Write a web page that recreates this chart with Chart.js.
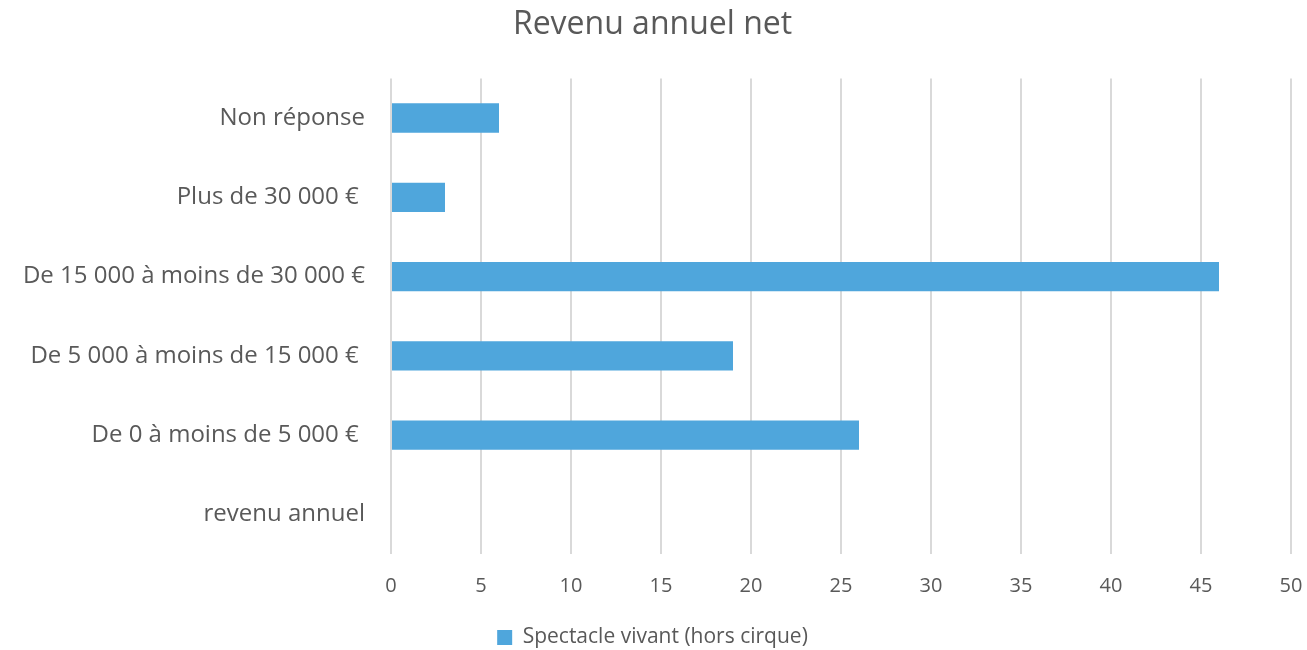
<!DOCTYPE html>
<html>
<head>
<meta charset="utf-8">
<script src="https://cdn.jsdelivr.net/npm/chart.js@4/dist/chart.umd.min.js"></script>
<style>
  html, body { margin: 0; padding: 0; background: #fff; }
  #wrap { width: 1307px; height: 650px; }
</style>
</head>
<body>
<div id="wrap"><canvas id="chart"></canvas></div>
<script>
// Data
const categories = [
  "Non réponse",
  "Plus de 30 000 € ",
  "De 15 000 à moins de 30 000 €",
  "De 5 000 à moins de 15 000 € ",
  "De 0 à moins de 5 000 € ",
  "revenu annuel"
];
const spectacleValues = [6, 3, 46, 19, 26, null];
const xTicks = [0, 5, 10, 15, 20, 25, 30, 35, 40, 45, 50];

const barColor = "#4fa6dc";
const textColor = "#595959";
const fontFamily = "'Open Sans', sans-serif";

const ctx = document.getElementById("chart").getContext("2d");

new Chart(ctx, {
  type: "bar",
  data: {
    labels: categories,
    datasets: [
      {
        label: "Spectacle vivant (hors cirque)",
        data: spectacleValues,
        backgroundColor: barColor,
        borderWidth: 0,
        categoryPercentage: 1,
        barPercentage: 0.37,
      },
    ],
  },
  options: {
    indexAxis: "y",
    responsive: true,
    maintainAspectRatio: false,
    animation: false,
    layout: {
      padding: { left: 0, right: 2, top: 0, bottom: -8 },
    },
    scales: {
      x: {
        min: 0,
        max: 50,
        afterBuildTicks: function (scale) {
          scale.ticks = xTicks.map((v) => ({ value: v }));
        },
        afterFit: function (scale) {
          scale.height = 67;
          scale.paddingRight = 16;
        },
        grid: {
          color: "#d9d9d9",
          lineWidth: 2,
          drawTicks: false,
        },
        border: { display: false },
        ticks: {
          color: textColor,
          padding: 20,
          font: { family: fontFamily, size: 20 },
        },
      },
      y: {
        afterFit: function (scale) {
          scale.width = 391;
        },
        grid: { display: false },
        border: { display: false },
        ticks: {
          color: textColor,
          padding: 18,
          font: { family: fontFamily, size: 24 },
        },
      },
    },
    plugins: {
      title: {
        display: true,
        text: "Revenu annuel net",
        color: textColor,
        font: { family: fontFamily, size: 32, weight: "normal" },
        padding: { top: 6, bottom: 34 },
      },
      legend: {
        display: true,
        position: "bottom",
        labels: {
          color: textColor,
          boxWidth: 15,
          boxHeight: 15,
          padding: 6,
          font: { family: fontFamily, size: 21 },
        },
      },
      tooltip: { enabled: false },
    },
  },
});
</script>
</body>
</html>
